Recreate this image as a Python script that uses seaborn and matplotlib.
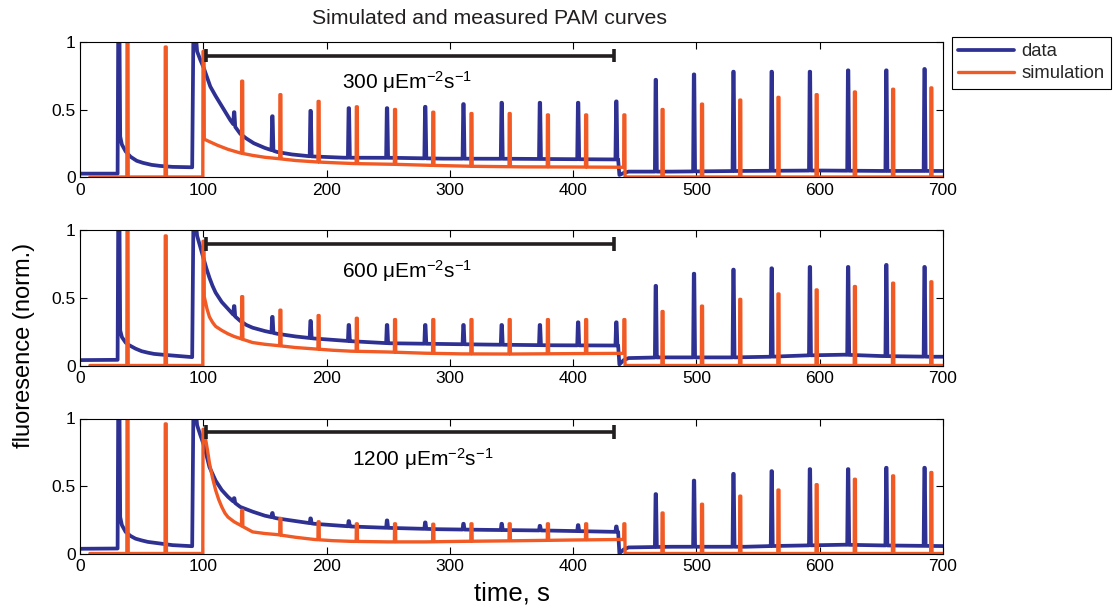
import numpy as np
import pandas as pd
import matplotlib
matplotlib.use("Agg")
import matplotlib.pyplot as plt
import seaborn as sns

# ---------------- data ----------------
panels = ["300", "600", "1200"]
light_labels = [r"300 μEm$^{-2}$s$^{-1}$", r"600 μEm$^{-2}$s$^{-1}$", r"1200 μEm$^{-2}$s$^{-1}$"]
light_on = 102.6
light_off = 433.4

# measured (blue) baseline knots per panel
data_t_300 = [0, 30.5, 31.0, 32.0, 32.6, 34, 37, 41, 46, 51, 58, 65, 75, 91,
              92, 93.5, 95, 97.5, 100.3, 103, 105.7, 110, 114, 118, 122, 126, 130, 135, 141,
              150, 160, 172, 187, 214, 255, 295, 350, 400, 436.5, 437.5, 441, 445, 480, 540,
              600, 650, 700]
data_y_300 = [0.025, 0.025, 1.1, 1.1, 0.30, 0.24, 0.19, 0.15, 0.12, 0.105, 0.09, 0.082, 0.075, 0.072,
              1.1, 1.1, 0.93, 0.87, 0.81, 0.74, 0.67, 0.60, 0.54, 0.48, 0.42, 0.37, 0.32, 0.285, 0.25,
              0.215, 0.185, 0.167, 0.153, 0.143, 0.142, 0.136, 0.135, 0.132, 0.13, 0.015, 0.03, 0.04, 0.04, 0.045,
              0.048, 0.045, 0.045]
data_t_600 = [0, 30.5, 31.0, 32.0, 32.6, 34, 37, 40, 45, 50, 55, 60, 67, 75, 83, 91,
              92, 93.5, 95, 97.5, 100, 102.5, 105, 107.5, 110, 115, 120, 125, 130, 135, 140,
              150, 160, 175, 190, 205, 220, 250, 290, 330, 380, 436.5, 437.5, 441, 445, 470, 530,
              560, 590, 620, 650, 690, 700]
data_y_600 = [0.04, 0.042, 1.1, 1.1, 0.26, 0.21, 0.17, 0.15, 0.125, 0.106, 0.095, 0.086, 0.08, 0.074, 0.068, 0.062,
              1.1, 1.1, 0.96, 0.88, 0.80, 0.72, 0.65, 0.59, 0.54, 0.47, 0.42, 0.37, 0.33, 0.30, 0.28,
              0.255, 0.235, 0.215, 0.20, 0.19, 0.18, 0.165, 0.16, 0.155, 0.15, 0.148, 0.008, 0.04, 0.055, 0.06, 0.06,
              0.065, 0.075, 0.08, 0.07, 0.065, 0.065]
data_t_1200 = [0, 30.5, 31.0, 32.0, 32.6, 34, 37, 41, 45, 50, 55, 60, 65, 75, 85, 91,
               92, 93.5, 95, 97.5, 100, 102.5, 105, 107.5, 110, 115, 120, 125, 130, 140,
               150, 160, 175, 190, 205, 220, 250, 290, 330, 380, 436.5, 437.5, 441, 445, 480, 540,
               560, 590, 620, 650, 700]
data_y_1200 = [0.035, 0.037, 1.1, 1.1, 0.27, 0.21, 0.16, 0.13, 0.11, 0.097, 0.086, 0.08, 0.074, 0.062, 0.057, 0.054,
               1.1, 1.1, 0.95, 0.88, 0.815, 0.73, 0.64, 0.59, 0.54, 0.47, 0.42, 0.38, 0.345, 0.31,
               0.28, 0.26, 0.24, 0.22, 0.21, 0.20, 0.19, 0.18, 0.175, 0.17, 0.16, 0.0, 0.03, 0.045, 0.05, 0.05,
               0.055, 0.06, 0.065, 0.06, 0.055]

# measured saturating pulses
data_pulse_t = [125, 156, 187, 218, 249, 280, 311, 342, 373, 404, 435,
                467, 498, 530, 561, 592, 623, 654, 685]
data_pulse_300 = [0.48, 0.45, 0.49, 0.51, 0.51, 0.52, 0.54, 0.55, 0.55, 0.55, 0.56,
                  0.72, 0.76, 0.78, 0.78, 0.78, 0.79, 0.79, 0.80]
data_pulse_600 = [0.44, 0.36, 0.33, 0.30, 0.30, 0.30, 0.30, 0.30, 0.30, 0.32, 0.32,
                  0.59, 0.68, 0.71, 0.72, 0.73, 0.73, 0.745, 0.73]
data_pulse_1200 = [0.41, 0.30, 0.26, 0.24, 0.245, 0.23, 0.22, 0.22, 0.205, 0.21, 0.20,
                   0.44, 0.54, 0.59, 0.61, 0.625, 0.625, 0.635, 0.635]

# simulation (orange) baseline knots
sim_t_300 = [8, 99.6, 99.8, 100.6, 100.8, 105, 111.5, 120, 130, 140, 150, 161, 175, 193, 210, 224,
             255, 286, 320, 360, 400, 441.5, 442, 700]
sim_y_300 = [0, 0, 0.93, 0.93, 0.28, 0.262, 0.235, 0.205, 0.178, 0.16, 0.146, 0.136, 0.122, 0.111, 0.104, 0.099,
             0.094, 0.086, 0.079, 0.075, 0.074, 0.072, 0.0, 0.0]
sim_t_600 = [8, 99.6, 99.8, 100.6, 100.8, 103, 105, 107.5, 110, 115, 120, 125, 130, 140, 150, 160, 175,
             190, 205, 220, 250, 280, 310, 350, 400, 441.5, 442, 700]
sim_y_600 = [0, 0, 0.92, 0.92, 0.51, 0.42, 0.36, 0.32, 0.29, 0.26, 0.235, 0.215, 0.20, 0.17, 0.157, 0.148, 0.133,
             0.123, 0.113, 0.106, 0.10, 0.091, 0.086, 0.085, 0.088, 0.09, 0.0, 0.0]
sim_t_1200 = [8, 99.6, 99.8, 101, 102, 103.5, 105, 107.5, 110, 112.5, 115, 117.5, 120, 125, 130, 140, 150,
              160, 175, 190, 205, 220, 250, 280, 310, 350, 400, 441.5, 442, 700]
sim_y_1200 = [0, 0, 0.92, 0.92, 0.84, 0.76, 0.67, 0.56, 0.47, 0.40, 0.345, 0.30, 0.27, 0.235, 0.21, 0.16, 0.148,
              0.14, 0.12, 0.104, 0.095, 0.09, 0.086, 0.086, 0.09, 0.094, 0.10, 0.104, 0.0, 0.0]

# simulated pulses
sim_pulse_t = [38, 69, 131, 162, 193, 224, 255, 286, 317, 348, 379, 410, 441,
               472, 504, 535, 566, 597, 628, 659, 690]
sim_pulse_300 = [1.0, 0.963, 0.71, 0.61, 0.56, 0.52, 0.50, 0.48, 0.47, 0.47, 0.46, 0.46, 0.46,
                 0.50, 0.54, 0.57, 0.59, 0.61, 0.63, 0.65, 0.66]
sim_pulse_600 = [1.0, 0.96, 0.51, 0.41, 0.37, 0.35, 0.34, 0.34, 0.34, 0.34, 0.34, 0.34, 0.34,
                 0.40, 0.44, 0.49, 0.53, 0.56, 0.585, 0.61, 0.62]
sim_pulse_1200 = [1.0, 0.96, 0.32, 0.26, 0.235, 0.22, 0.22, 0.217, 0.22, 0.22, 0.22, 0.22, 0.22,
                  0.30, 0.365, 0.425, 0.47, 0.51, 0.55, 0.575, 0.60]

series_names = ["data", "simulation"]
colors = {"data": "#2E3192", "simulation": "#F15A24"}
widths = {"data": 2.7, "simulation": 2.4}


def build(kt, ky, pt, pv, shape):
    """Polyline through the read knots with the read pulses inserted."""
    kt = np.asarray(kt, float)
    ky = np.asarray(ky, float)
    s0, s1, s2, s3 = shape
    wins = [(t + s0, t + s3) for t in pt]
    pts = [(t, y) for t, y in zip(kt, ky)
           if not any(a <= t <= b for a, b in wins)]
    for t, p in zip(pt, pv):
        a, b = t + s0, t + s3
        pts += [(a, np.interp(a, kt, ky)), (t + s1, p), (t + s2, p), (b, np.interp(b, kt, ky))]
    pts.sort(key=lambda q: q[0])
    return [q[0] for q in pts], [q[1] for q in pts]


knots = {
    "300": (data_t_300, data_y_300, data_pulse_300, sim_t_300, sim_y_300, sim_pulse_300),
    "600": (data_t_600, data_y_600, data_pulse_600, sim_t_600, sim_y_600, sim_pulse_600),
    "1200": (data_t_1200, data_y_1200, data_pulse_1200, sim_t_1200, sim_y_1200, sim_pulse_1200),
}
rows = []
for p in panels:
    dt, dy, dp, st, sy, sp = knots[p]
    tx, vy = build(dt, dy, data_pulse_t, dp, (-0.7, -0.15, 0.25, 0.9))
    rows += [(p, "data", a, b) for a, b in zip(tx, vy)]
    tx, vy = build(st, sy, sim_pulse_t, sp, (0.0, 0.15, 0.95, 1.1))
    rows += [(p, "simulation", a, b) for a, b in zip(tx, vy)]
df = pd.DataFrame(rows, columns=["panel", "series", "time", "fluorescence"])

# ---------------- drawing ----------------
sns.set_style("ticks")
plt.rcParams["font.family"] = ["Liberation Sans", "DejaVu Sans"]
plt.rcParams["mathtext.default"] = "regular"

W, H = 1113, 609
fig = plt.figure(figsize=(W / 100, H / 100), dpi=100)
left = 80 / W
width = (943 - 80) / W
tops = [42, 230.5, 418.5]
bots = [177, 365.5, 553.5]
axes = []
for i, p in enumerate(panels):
    ax = fig.add_axes([left, 1 - bots[i] / H, width, (bots[i] - tops[i]) / H])
    axes.append(ax)
    sns.lineplot(data=df[df.panel == p], x="time", y="fluorescence", hue="series",
                 hue_order=series_names, palette=colors, estimator=None, sort=False,
                 linewidth=2.4, ax=ax, legend=(i == 0))
    for ln, name in zip(ax.lines[:2], series_names):
        ln.set_linewidth(widths[name])
    ax.set_xlim(0, 700)
    ax.set_ylim(0, 1)
    ax.set_xticks([0, 100, 200, 300, 400, 500, 600, 700])
    ax.set_yticks([0, 0.5, 1])
    ax.set_yticklabels(["0", "0.5", "1"])
    ax.set_xlabel("")
    ax.set_ylabel("")
    ax.tick_params(direction="in", length=5, width=0.8, top=True, right=True,
                   labelsize=12.5, colors="black", pad=4)
    ax.tick_params(axis="y", pad=3)
    for s in ax.spines.values():
        s.set_color("black")
        s.set_linewidth(0.8)
    # illumination bar
    bar_c = "#231F20"
    ax.plot([light_on, light_off], [0.9, 0.9], color=bar_c, lw=2.6, solid_capstyle="butt")
    ax.plot([light_on, light_on], [0.85, 0.95], color=bar_c, lw=2.6, solid_capstyle="butt")
    ax.plot([light_off, light_off], [0.85, 0.95], color=bar_c, lw=2.6, solid_capstyle="butt")
    tx0 = 212.5 if i < 2 else 220.6
    ax.text(tx0, 0.70, light_labels[i], ha="left", va="center", fontsize=15, color="black")

leg = axes[0].get_legend()
handles = leg.legend_handles
labels = [t.get_text() for t in leg.get_texts()]
leg.remove()
for h, name in zip(handles, series_names):
    h.set_linewidth(widths[name])
fig.legend(handles, labels, loc="upper left", bbox_to_anchor=(952 / W, 1 - 37 / H),
           bbox_transform=fig.transFigure, borderaxespad=0, fancybox=False,
           edgecolor="black", framealpha=1, fontsize=13.3, handlelength=3.0,
           borderpad=0.35, labelspacing=0.25, handletextpad=0.4).get_frame().set_linewidth(0.8)

fig.text(489 / W, 1 - 19 / H, "Simulated and measured PAM curves", ha="center", va="center",
         fontsize=15.3, color="#231F20")
fig.text(511.5 / W, 1 - 594 / H, "time, s", ha="center", va="center", fontsize=18.5, color="black")
fig.text(24 / W, 1 - 345 / H, "fluoresence (norm.)", rotation=90, ha="center", va="center",
         fontsize=17, color="black")

fig.savefig("out.png", dpi=100)
